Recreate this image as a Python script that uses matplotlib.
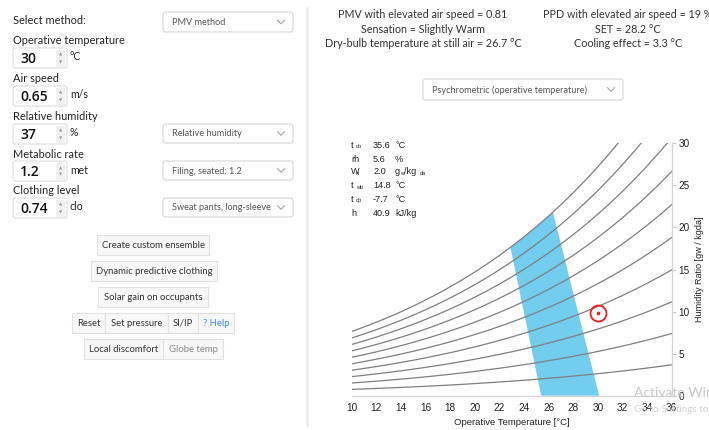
import matplotlib
matplotlib.use("Agg")
import matplotlib.pyplot as plt
from matplotlib.patches import Rectangle, FancyBboxPatch, Polygon

# ---- psychrometric chart data ----
temp_grid = [10, 11, 12, 13, 14, 15, 16, 17, 18, 19, 20, 21, 22, 23,
             24, 25, 26, 27, 28, 29, 30, 31, 32, 33, 34, 35, 36]
p_sat_kpa = [1.2282, 1.3130, 1.4028, 1.4981, 1.5990, 1.7058, 1.8188, 1.9384,
             2.0647, 2.1983, 2.3393, 2.4882, 2.6453, 2.8111, 2.9858, 3.1699,
             3.3639, 3.5681, 3.7831, 4.0092, 4.2470, 4.4969, 4.7596, 5.0354,
             5.3251, 5.6290, 5.9479]
rh_levels = [0.1, 0.2, 0.3, 0.4, 0.5, 0.6, 0.7, 0.8, 0.9, 1.0]
p_atm = 101.325

# comfort zone outline (operative temp, humidity ratio g/kg)
zone_t = [25.4, 22.9, 23.0, 24.0, 25.0, 26.0, 26.35, 30.1]
zone_w = [0.0, 17.6, 17.75, 18.9, 20.1, 21.35, 21.8, 0.0]

# current state
point_t = 30.0
point_w = 9.8

x_ticks = [10, 12, 14, 16, 18, 20, 22, 24, 26, 28, 30, 32, 34, 36]
y_ticks = [0, 5, 10, 15, 20, 25, 30]

info_names = [("t", "db"), ("rh", ""), ("W", "a"), ("t", "wb"), ("t", "dp"), ("h", "")]
info_values = ["35.6", "5.6", "2.0", "14.8", "-7.7", "40.9"]
info_units = ["°C", "%", "g", "°C", "°C", "kJ/kg"]

results_left = ["PMV with elevated air speed = 0.81", "Sensation = Slightly Warm",
                "Dry-bulb temperature at still air = 26.7 °C"]
results_right = ["PPD with elevated air speed = 19 %", "SET = 28.2 °C",
                 "Cooling effect = 3.3 °C"]

inputs = [("Operative temperature", "30", "°C"),
          ("Air speed", "0.65", "m/s"),
          ("Relative humidity", "37", "%"),
          ("Metabolic rate", "1.2", "met"),
          ("Clothing level", "0.74", "clo")]

W_PX, H_PX = 709, 430
UI_FONT = ["Lato", "DejaVu Sans"]
VAL_FONT = ["Open Sans", "DejaVu Sans"]
CH_FONT = ["Liberation Sans", "DejaVu Sans"]

fig = plt.figure(figsize=(W_PX / 100, H_PX / 100), dpi=100)
fig.patch.set_facecolor("white")

ui = fig.add_axes([0, 0, 1, 1])
ui.set_xlim(0, W_PX)
ui.set_ylim(H_PX, 0)
ui.axis("off")


def box(x0, y0, x1, y1, fc="white", ec="#d6d6d6", r=2.5, lw=0.8, z=1):
    p = FancyBboxPatch((x0, y0), x1 - x0, y1 - y0,
                       boxstyle="round,pad=0,rounding_size=%s" % r,
                       fc=fc, ec=ec, lw=lw, zorder=z)
    ui.add_patch(p)


def chevron(x, y, color="#9a9a9a"):
    ui.plot([x - 3.5, x, x + 3.5], [y - 1.8, y + 1.8, y - 1.8], color=color, lw=0.7, zorder=3)


def dropdown(x0, y0, x1, y1, label, fs=6.6):
    box(x0, y0, x1, y1)
    ui.text(x0 + 9, (y0 + y1) / 2 + 0.5, label, fontsize=fs, color="#555555",
            family=UI_FONT, va="center", ha="left", zorder=3)
    chevron(x1 - 12, (y0 + y1) / 2)


def button(x0, y0, x1, y1, label, color="#333333"):
    ui.add_patch(Rectangle((x0, y0), x1 - x0, y1 - y0, fc="#f8f8f9", ec="#e2e2e2",
                           lw=0.8, zorder=1))
    ui.text((x0 + x1) / 2, (y0 + y1) / 2 + 0.5, label, fontsize=6.8, color=color,
            family=UI_FONT, ha="center", va="center", zorder=3)


# ---- left panel ----
ui.text(13, 21, "Select method:", fontsize=7.9, color="#222222", family=UI_FONT, va="center")
dropdown(163, 12, 293, 32, "PMV method")

label_y = [41, 79, 117, 154, 191]
for (name, val, unit), ly in zip(inputs, label_y):
    ui.text(13, ly, name, fontsize=7.9, color="#222222", family=UI_FONT, va="center")
    by0, by1 = ly + 7, ly + 27
    box(13, by0, 67, by1, ec="#dedede")
    ui.add_patch(Rectangle((56, by0 + 1.5), 9, by1 - by0 - 3, fc="#f1f1f1", ec="none", zorder=2))
    ui.text(61, by0 + 7, "▲", fontsize=3, color="#999999", ha="center", va="center", zorder=3)
    ui.text(61, by1 - 6, "▼", fontsize=3, color="#999999", ha="center", va="center", zorder=3)
    ui.text(20, (by0 + by1) / 2 + 1, val, fontsize=10, color="#111111", family=VAL_FONT,
            weight="semibold", va="center", zorder=3)
    ui.text(70, (by0 + by1) / 2 - 1, unit, fontsize=7.6, color="#222222", family=UI_FONT,
            va="center", zorder=3)

dropdown(163, 124, 293, 143, "Relative humidity")
dropdown(163, 161, 293, 180, "Filing, seated: 1.2")
dropdown(163, 198, 293, 217, "Sweat pants, long-sleeve")

button(97, 235, 209, 255, "Create custom ensemble")
button(91, 261, 217, 281, "Dynamic predictive clothing")
button(98, 287, 208, 307, "Solar gain on occupants")
button(72, 313, 105, 333, "Reset")
button(105, 313, 168, 333, "Set pressure")
button(168, 313, 198, 333, "SI/IP")
button(198, 313, 234, 333, "? Help", color="#3d8bfd")
button(84, 339, 163, 359, "Local discomfort")
button(163, 339, 223, 359, "Globe temp", color="#8a8a8a")

# divider
ui.plot([306.7, 306.7], [8, 425], color="#ececec", lw=1.8, zorder=1)

# ---- results ----
for i, (a, b) in enumerate(zip(results_left, results_right)):
    ui.text(423, 15 + i * 14.3, a, fontsize=7.75, color="#333333", family=UI_FONT,
            ha="center", va="center")
    ui.text(628, 15 + i * 14.3, b, fontsize=7.75, color="#333333", family=UI_FONT,
            ha="center", va="center")

dropdown(423, 79, 623, 100, "Psychrometric (operative temperature)")

# ---- chart ----
x0, x1, yb, yt = 351.7, 671.7, 395.7, 143.3
ax = fig.add_axes([x0 / W_PX, (H_PX - yb) / H_PX, (x1 - x0) / W_PX, (yb - yt) / H_PX])
ax.patch.set_alpha(0)
ax.set_xlim(10, 36)
ax.set_ylim(0, 30)

ax.add_patch(Polygon(list(zip(zone_t, zone_w)), closed=True, fc="#73cdee", ec="none", zorder=1))

for rh in rh_levels:
    w_line = [622.0 * rh * p / (p_atm - rh * p) for p in p_sat_kpa]
    ax.plot(temp_grid, w_line, color="#7f7f7f", lw=0.9, zorder=2, clip_on=True)

ax.plot([point_t], [point_w], "o", ms=11.5, mfc="none", mec="#ee1c1c", mew=1.3, zorder=4)
ax.plot([point_t], [point_w], "o", ms=2.6, mfc="#ee1c1c", mec="none", zorder=4)

for s in ["left", "top"]:
    ax.spines[s].set_visible(False)
for s in ["right", "bottom"]:
    ax.spines[s].set_color("#d4d4d4")
    ax.spines[s].set_linewidth(0.9)
ax.yaxis.tick_right()
ax.yaxis.set_label_position("right")
ax.set_xticks(x_ticks)
ax.set_yticks(y_ticks)
ax.tick_params(axis="x", length=0, pad=5, labelsize=7.2, labelcolor="#222222")
ax.tick_params(axis="y", length=3, width=0.8, color="#cccccc", pad=2,
               labelsize=7.2, labelcolor="#222222")
for lab in ax.get_xticklabels() + ax.get_yticklabels():
    lab.set_family(CH_FONT)
ax.set_xlabel("Operative Temperature [°C]", fontsize=6.8, color="#222222",
              family=CH_FONT, labelpad=4)
ax.set_ylabel("Humidity Ratio [gw / kgda]", fontsize=6.5, color="#222222",
              family=CH_FONT, labelpad=4)

# info block in the chart corner
row_y = [145, 159, 172, 186, 199, 213]
for (nm, sub), val, unit, ry in zip(info_names, info_values, info_units, row_y):
    ui.text(351, ry, nm, fontsize=6.6, color="#222222", family=CH_FONT, va="center", zorder=5)
    if sub:
        ui.text(356, ry + 1.5, sub, fontsize=4.0, color="#222222", family=CH_FONT,
                va="center", zorder=5)
    ui.text(373, ry, val, fontsize=6.6, color="#222222", family=CH_FONT, va="center", zorder=5)
    ui.text(395, ry, unit, fontsize=6.6, color="#222222", family=CH_FONT, va="center", zorder=5)
# unit "g w/kg da" subscripts
ui.text(400.5, 173.5, "w", fontsize=4.0, color="#222222", family=CH_FONT, va="center", zorder=5)
ui.text(404.5, 172, "/kg", fontsize=6.6, color="#222222", family=CH_FONT, va="center", zorder=5)
ui.text(420, 173.5, "da", fontsize=4.0, color="#222222", family=CH_FONT, va="center", zorder=5)

# watermark (partly hidden at the right edge, as in the screenshot)
fig.text(634 / W_PX, 1 - 393 / H_PX, "Activate Win", fontsize=10, color="#c4c4c4",
         family=UI_FONT, va="center", ha="left", alpha=0.9)
fig.text(634 / W_PX, 1 - 409 / H_PX, "Go to Settings to", fontsize=7.2, color="#cfcfcf",
         family=UI_FONT, va="center", ha="left", alpha=0.9)

fig.savefig("out.png", dpi=100, facecolor="white")
